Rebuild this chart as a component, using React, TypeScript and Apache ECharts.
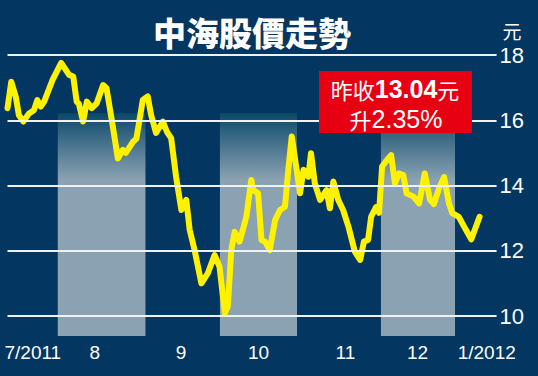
import React, { useEffect, useRef } from 'react';
import * as echarts from 'echarts';

// trading-day index since start of chart (mid July 2011)
const tradingDay = [
  0, 1.0, 2.2, 3.0, 4.2, 5.7, 7.0, 7.9, 8.8, 9.7, 11.9, 14.2, 16.3, 17.4, 18.3, 18.9, 20.0,
  21.0, 22.3, 23.6, 25.3, 26.2, 27.6, 29.2, 30.5, 31.3, 33.2, 34.1, 35.8, 37.1, 38.0, 39.3,
  41.1, 42.2, 43.3, 44.6, 46.0, 47.3, 48.2, 49.5, 51.3, 53.0, 54.8, 56.1, 57.5, 58.3, 59.2,
  60.1, 61.4, 63.2, 64.5, 65.0, 66.3, 67.2, 68.1, 69.4, 70.8, 72.1, 73.4, 74.3, 75.2, 76.5,
  77.4, 78.3, 79.6, 80.3, 81.3, 82.7, 84.4, 85.3, 86.2, 87.5, 88.8, 90.2, 91.9, 93.3, 94.3,
  95.4, 96.2, 97.5, 98.3, 99.1, 100.4, 101.5, 102.5, 103.6, 104.7, 105.6, 107.4, 108.9,
  110.4, 111.8, 112.8, 114.2, 115.5, 116.8, 117.7, 119.4, 120.8, 122.7, 124.9,
];
const closePrice = [
  16.37, 17.18, 16.72, 16.16, 15.96, 16.21, 16.31, 16.62, 16.42, 16.57, 17.23, 17.76, 17.39,
  17.34, 16.57, 16.5, 15.96, 16.57, 16.37, 16.52, 17.08, 16.98, 16.0, 14.83, 15.09, 15.0,
  15.34, 15.43, 16.62, 16.73, 16.16, 15.61, 15.96, 15.64, 15.45, 14.27, 13.25, 13.56, 12.64,
  12.02, 11.0, 11.31, 11.87, 11.51, 10.08, 10.29, 12.02, 12.58, 12.28, 13.04, 14.17, 13.86,
  13.76, 12.33, 12.28, 12.02, 12.94, 13.25, 13.35, 14.48, 15.5, 14.48, 13.76, 14.48, 14.27,
  14.99, 14.07, 13.56, 13.86, 13.3, 14.12, 13.56, 13.25, 12.74, 11.97, 11.72, 12.28, 12.33,
  13.04, 13.34, 13.16, 14.58, 14.78, 14.93, 14.07, 14.37, 14.32, 13.76, 13.66, 13.45, 14.37,
  13.56, 13.43, 13.92, 14.26, 13.45, 13.15, 13.04, 12.74, 12.35, 13.04,
];
const monthLabels = ['7/2011', '8', '9', '10', '11', '12', '1/2012'];
const monthLabelAt = [6.7, 23.1, 45.9, 66.4, 89.4, 108.5, 126.8];
const shadedMonths = [
  [13.3, 36.5],
  [56.2, 76.6],
  [98.8, 118.4],
];
const gridValues = [10, 12, 14, 16, 18];
const titleText = '中海股價走勢';
const unitText = '元';
const lastClose = '13.04';
const changeText = '2.35%';

const NUM_FONT = '"Liberation Sans", Arial, "Noto Sans CJK TC", sans-serif';
const CJK_FONT = '"Noto Sans CJK TC", "Liberation Sans", sans-serif';

export default function App() {
  const ref = useRef<HTMLDivElement>(null);
  useEffect(() => {
    document.body.style.margin = '0';
    if (!ref.current) return;
    const chart = echarts.init(ref.current, undefined, { renderer: 'svg' });
    const data = tradingDay.map((d, i) => [d, closePrice[i]]);
    const shade = new echarts.graphic.LinearGradient(0, 0, 0, 1, [
      { offset: 0, color: '#0a4868' },
      { offset: 0.12, color: '#3f6d88' },
      { offset: 0.3, color: '#8aa2b2' },
      { offset: 1, color: '#8aa2b2' },
    ]);
    chart.setOption({
      animation: false,
      backgroundColor: '#033660',
      grid: { left: 7.5, right: 41.4, top: 55, bottom: 40 },
      xAxis: {
        type: 'value',
        min: 0,
        max: 129.4,
        axisLine: { show: false },
        axisTick: { show: false },
        splitLine: { show: false },
        axisLabel: {
          customValues: monthLabelAt,
          color: '#ffffff',
          fontSize: 19,
          fontFamily: NUM_FONT,
          margin: 7,
          formatter: (v: number) => {
            let best = 0;
            monthLabelAt.forEach((p, i) => {
              if (Math.abs(p - v) < Math.abs(monthLabelAt[best] - v)) best = i;
            });
            return monthLabels[best];
          },
        },
      },
      yAxis: {
        type: 'value',
        position: 'right',
        min: 9.387,
        max: 18,
        axisLine: { show: false },
        axisTick: { show: false },
        splitLine: { show: false },
        axisLabel: {
          customValues: gridValues,
          color: '#ffffff',
          fontSize: 22,
          fontFamily: NUM_FONT,
          margin: 3,
          formatter: (v: number) => String(Math.round(v)),
        },
      },
      series: [
        {
          type: 'line',
          data: [],
          z: 1,
          silent: true,
          markArea: {
            silent: true,
            itemStyle: { color: shade, opacity: 1, borderWidth: 0 },
            data: shadedMonths.map(([a, b]) => [
              { xAxis: a, yAxis: 16.22 },
              { xAxis: b, yAxis: 9.387 },
            ]),
          },
        },
        {
          type: 'line',
          data: [],
          z: 2,
          clip: false,
          silent: true,
          markLine: {
            silent: true,
            symbol: ['none', 'none'],
            label: { show: false },
            lineStyle: { color: '#eef2f5', width: 2, type: 'solid' },
            data: gridValues.map((v) => ({ yAxis: v })),
          },
        },
        {
          type: 'line',
          data,
          z: 3,
          symbol: 'none',
          lineStyle: { color: '#fff200', width: 6, join: 'round', cap: 'round' },
        },
      ],
      graphic: [
        {
          type: 'text',
          x: 252,
          y: 32,
          z: 20,
          style: {
            text: titleText,
            fill: '#ffffff',
            font: `900 33px ${CJK_FONT}`,
            textAlign: 'center',
            textVerticalAlign: 'middle',
          },
        },
        {
          type: 'text',
          x: 512,
          y: 30,
          z: 20,
          style: {
            text: unitText,
            fill: '#ffffff',
            font: `400 19px ${CJK_FONT}`,
            textAlign: 'center',
            textVerticalAlign: 'middle',
          },
        },
        {
          type: 'rect',
          z: 20,
          shape: { x: 319, y: 71, width: 153, height: 62 },
          style: { fill: '#e60012' },
        },
        {
          type: 'text',
          x: 395,
          y: 89,
          z: 21,
          style: {
            text: `{a|昨收}{b|${lastClose}}{a|元}`,
            textAlign: 'center',
            textVerticalAlign: 'middle',
            rich: {
              a: { fill: '#ffffff', fontSize: 22, fontFamily: CJK_FONT },
              b: { fill: '#ffffff', fontSize: 25, fontWeight: 'bold', fontFamily: NUM_FONT },
            },
          },
        },
        {
          type: 'text',
          x: 396,
          y: 119,
          z: 21,
          style: {
            text: `{a|升}{b|${changeText}}`,
            textAlign: 'center',
            textVerticalAlign: 'middle',
            rich: {
              a: { fill: '#ffffff', fontSize: 22, fontFamily: CJK_FONT },
              b: { fill: '#ffffff', fontSize: 25, fontFamily: NUM_FONT },
            },
          },
        },
      ],
    });
    return () => chart.dispose();
  }, []);
  return (
    <div
      ref={ref}
      style={{ position: 'absolute', left: 0, top: 0, width: 538, height: 376 }}
    />
  );
}
